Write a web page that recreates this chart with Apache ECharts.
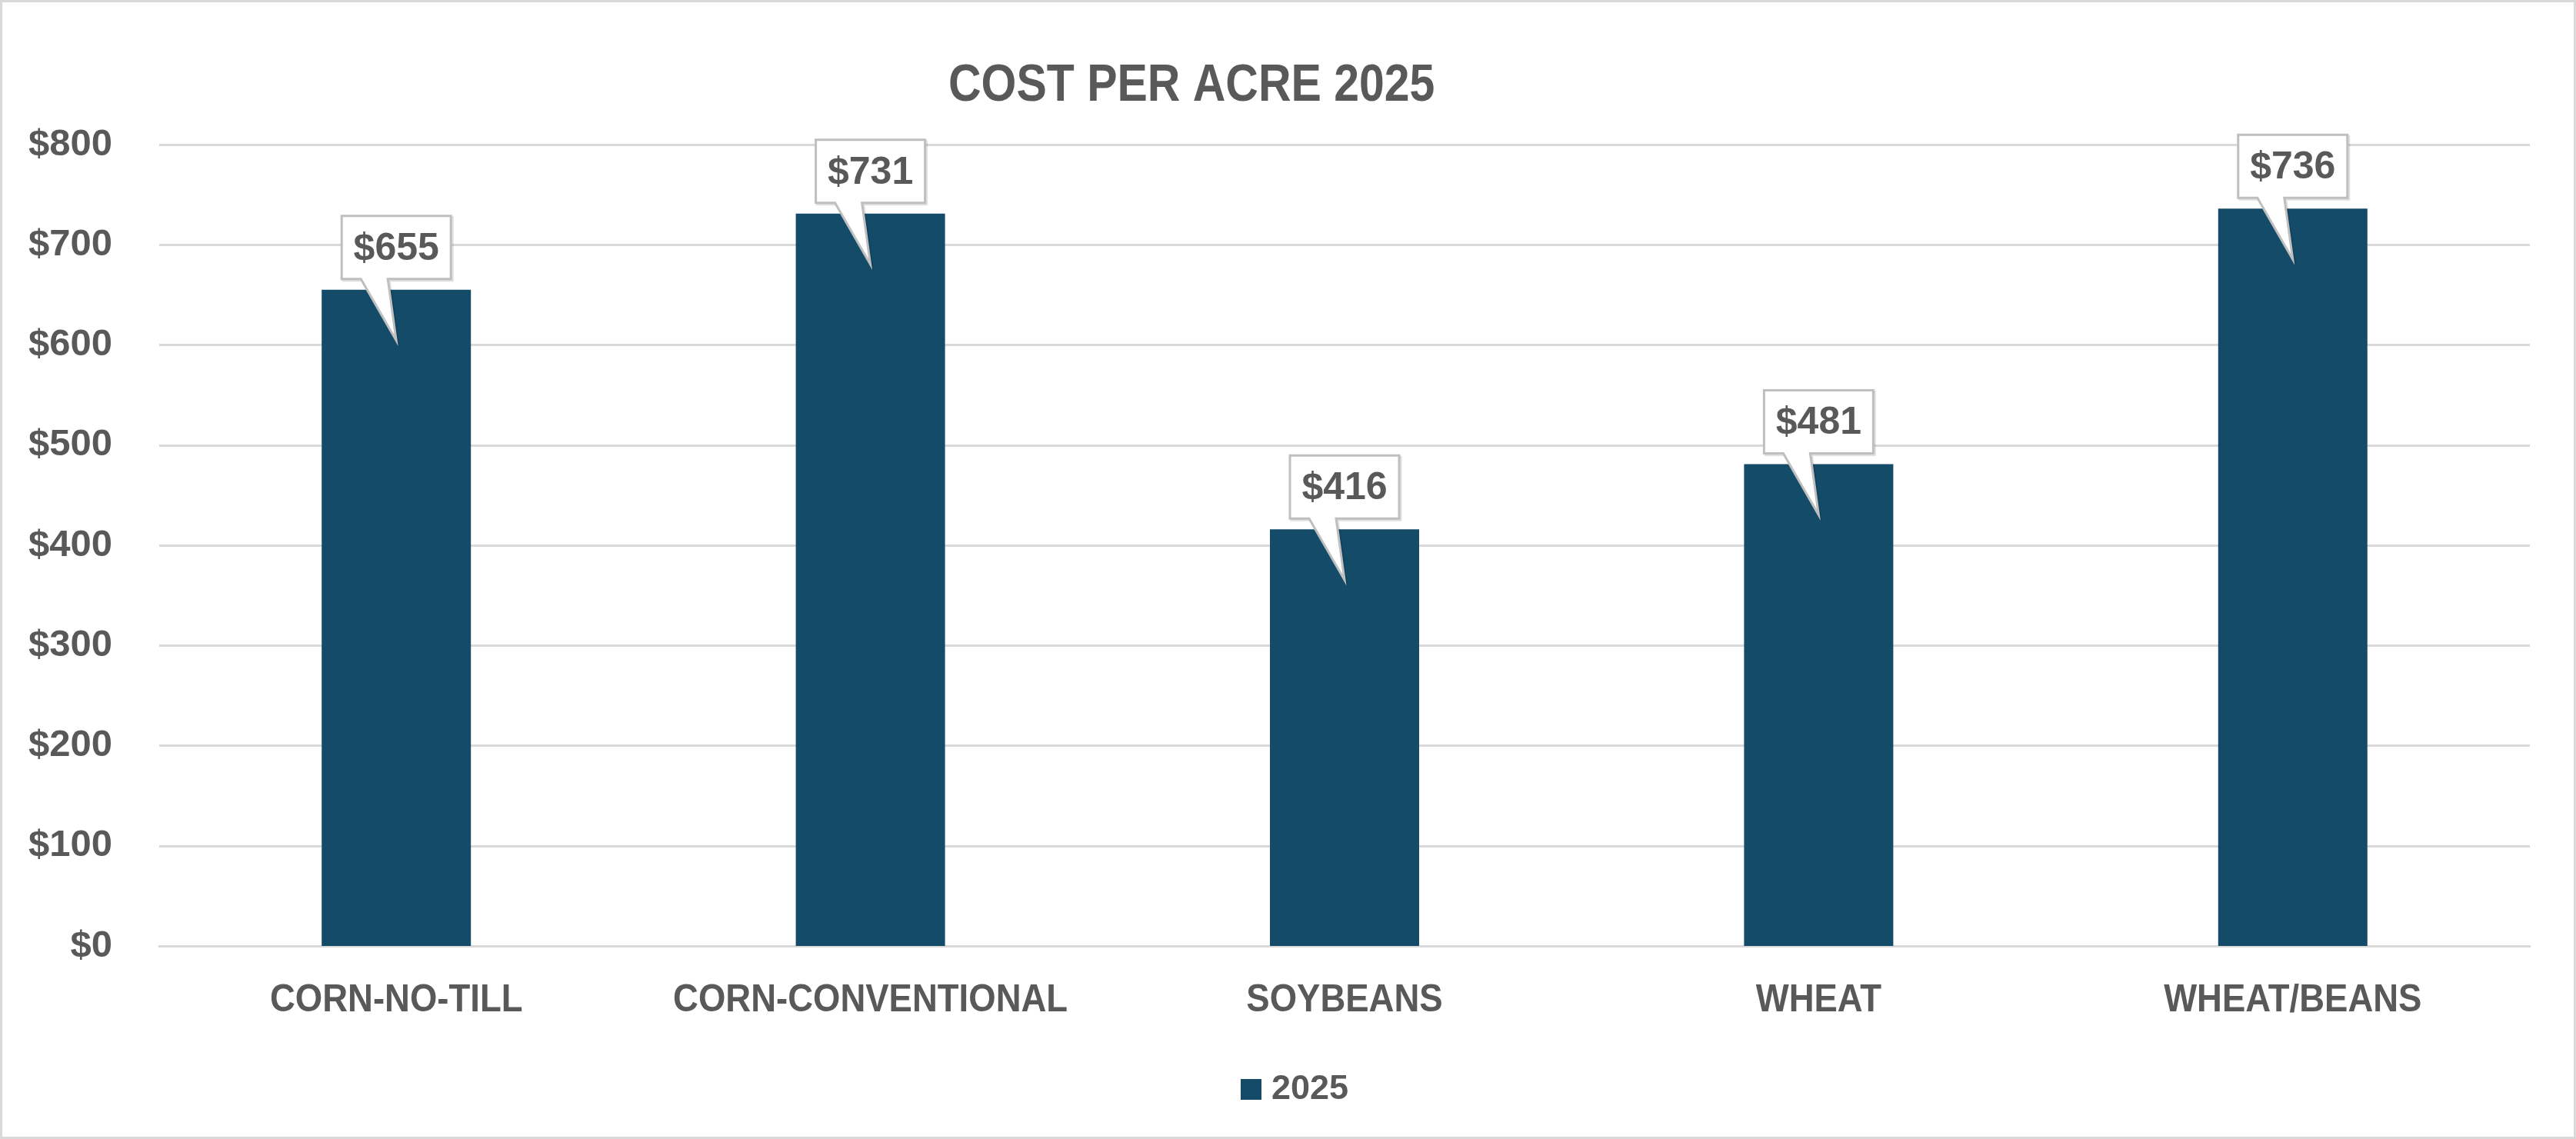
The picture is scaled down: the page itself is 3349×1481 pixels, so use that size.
<!DOCTYPE html>
<html>
<head>
<meta charset="utf-8">
<script src="https://cdn.jsdelivr.net/npm/echarts@6/dist/echarts.min.js"></script>
<style>
html,body{margin:0;padding:0;background:#fff;}
#frame{width:3349px;height:1481px;box-sizing:border-box;border:3px solid #d9d9d9;position:relative;}
#chart{position:absolute;left:-3px;top:-3px;width:3349px;height:1481px;}
</style>
</head>
<body>
<div id="frame"><div id="chart"></div></div>
<script>
const categories = ['CORN-NO-TILL', 'CORN-CONVENTIONAL', 'SOYBEANS', 'WHEAT', 'WHEAT/BEANS'];
const values2025 = [655, 731, 416, 481, 736];
const seriesName = '2025';
const titleText = 'COST PER ACRE 2025';

const SANS = "'Liberation Sans', Arial, sans-serif";
const TXT = '#595959';
const BAR = '#134B69';

const chart = echarts.init(document.getElementById('chart'), null, {renderer: 'canvas'});

function renderCallout(params, api) {
  const p = api.coord([api.value(0), api.value(1)]);
  const cx = p[0], yt = p[1];
  const hw = 71, top = yt - 96, bot = yt - 14;
  const pts = [
    [cx - hw, top], [cx + hw, top], [cx + hw, bot],
    [cx - 11, bot], [cx, yt + 66], [cx - 46, bot], [cx - hw, bot]
  ];
  return {
    type: 'group',
    children: [
      {type: 'polygon', shape: {points: pts.map(q => [q[0] + 2, q[1] + 2])},
       style: {fill: 'rgba(0,0,0,0)', stroke: 'rgba(0,0,0,0.12)', lineWidth: 3}},
      {type: 'polygon', shape: {points: pts},
       style: {fill: '#ffffff', stroke: '#bfbfbf', lineWidth: 3, lineJoin: 'miter'}},
      {type: 'text', x: cx, y: (top + bot) / 2 + 2,
       style: {text: '$' + api.value(1), fill: TXT, font: 'bold 50px ' + SANS,
               align: 'center', verticalAlign: 'middle'}}
    ]
  };
}

function renderCategoryLabel(params, api) {
  const p = api.coord([api.value(0), 0]);
  return {
    type: 'text', x: p[0], y: p[1] + 71, scaleX: 0.91,
    style: {text: categories[params.dataIndex], fill: TXT, font: 'bold 50px ' + SANS,
            align: 'center', verticalAlign: 'middle'}
  };
}

chart.setOption({
  animation: false,
  backgroundColor: 'transparent',
  graphic: [{
    type: 'text', x: 1233, y: 112, scaleX: 0.867,
    style: {text: titleText, fill: TXT, font: 'bold 68px ' + SANS,
            align: 'left', verticalAlign: 'middle'}
  }],
  legend: {
    data: [seriesName], top: 1394, left: 1613, padding: 0,
    itemWidth: 27, itemHeight: 27, itemGap: 20,
    icon: 'rect',
    textStyle: {fontFamily: SANS, fontWeight: 'bold', fontSize: 45, color: TXT, padding: [0, 0, 0, 8]}
  },
  grid: {left: 207, right: 60, top: 188, bottom: 251, containLabel: false},
  xAxis: {
    type: 'category', data: categories,
    axisLine: {show: true, lineStyle: {color: '#d9d9d9', width: 3}},
    axisTick: {show: false},
    axisLabel: {show: false}
  },
  yAxis: {
    type: 'value', min: 0, max: 800, interval: 100,
    axisLine: {show: false}, axisTick: {show: false},
    splitLine: {lineStyle: {color: '#d9d9d9', width: 3}},
    axisLabel: {fontFamily: SANS, fontWeight: 'bold', fontSize: 49, color: TXT, margin: 61,
                formatter: v => '$' + v}
  },
  series: [
    {
      name: seriesName, type: 'bar', data: values2025,
      barWidth: 194, itemStyle: {color: BAR}
    },
    {
      type: 'custom', renderItem: renderCallout,
      data: values2025.map((v, i) => [i, v]),
      encode: {x: 0, y: 1}, z: 10, silent: true
    },
    {
      type: 'custom', renderItem: renderCategoryLabel,
      data: categories.map((c, i) => [i, 0]),
      encode: {x: 0, y: 1}, z: 10, silent: true, clip: false
    }
  ]
});
</script>
</body>
</html>
